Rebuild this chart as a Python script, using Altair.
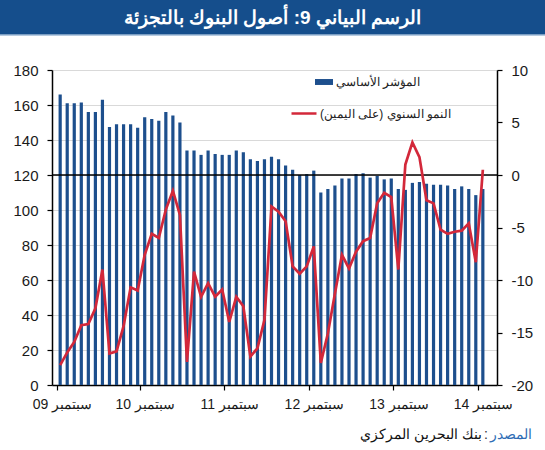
import altair as alt
import pandas as pd

# ---- data ----
index_values = [166, 161, 161, 161.5, 156, 156, 163, 147.5, 149, 149, 149, 147,
                153, 152, 151, 156, 154, 150, 134, 134, 131.5, 134, 132, 131.5,
                131.5, 134, 133, 129, 128, 129, 130.5, 129, 125.5, 123, 120, 120.5,
                122.5, 110, 112, 114, 118, 118, 120.5, 121, 118.5, 119.5, 117.5, 118,
                112, 111.5, 115.5, 116, 115, 114.5, 114.5, 114, 112, 113.5, 112, 108.5,
                112]
growth_values = [-18.1, -16.9, -15.9, -14.3, -14.2, -12.7, -9.0, -17.0, -16.8, -14.4,
                 -10.7, -11.0, -7.6, -5.6, -6.0, -3.3, -1.5, -3.8, -17.8, -9.2,
                 -11.6, -10.3, -11.6, -10.9, -14.0, -11.6, -12.5, -17.3, -16.5, -13.8,
                 -3.0, -3.5, -4.4, -8.7, -9.4, -8.7, -6.8, -17.9, -15.1, -11.3,
                 -7.6, -8.9, -7.3, -6.3, -6.0, -2.7, -1.7, -2.1, -9.0, 1.0,
                 3.1, 1.7, -2.4, -2.7, -5.2, -5.6, -5.4, -5.3, -4.6, -8.3,
                 0.5]
month_index = list(range(len(index_values)))
year_labels = ['09', '10', '11', '12', '13', '14']
month_word = 'سبتمبر'
tick_positions = [-0.45, 11.3, 23.3, 35.3, 47.3, 59.3]
left_ticks = [0, 20, 40, 60, 80, 100, 120, 140, 160, 180]
right_ticks = [-20, -15, -10, -5, 0, 5, 10]
reference_level = [120]

bar_label = 'المؤشر الأساسي'
line_label = 'النمو السنوي (على اليمين)'
title_text = 'الرسم البياني 9: أصول البنوك بالتجزئة'
source_label = 'المصدر'
source_text = 'بنك البحرين المركزي'

BLUE = '#1d4f8d'
BAND = '#154e8c'
RED = '#d3283a'
FONT = 'Liberation Sans'

df = pd.DataFrame({
    'm': month_index,
    'index': index_values,
    'growth': growth_values,
    'bar_series': bar_label,
    'line_series': line_label,
})

xscale = alt.Scale(domain=[-0.45, 61.3], nice=False, zero=False)
label_expr = ("'" + month_word + " ' + " + str(year_labels) +
              "[round((datum.value + 0.7) / 12)]")
xaxis = alt.Axis(values=tick_positions, labelExpr=label_expr, grid=False,
                 title=None, tickSize=5, labelPadding=7, labelOffset=5,
                 labelFlush=False, labelOverlap=False, labelFontSize=14)

left_scale = alt.Scale(domain=[0, 180], nice=False)
left_axis = alt.Axis(values=left_ticks, title=None, grid=True, gridColor='#d9d9d9',
                     tickSize=5, labelPadding=9, labelFontSize=15,
                     labelOverlap=False, labelFlush=False, tickCount=10)
right_axis = alt.Axis(values=right_ticks, title=None, grid=False, orient='right',
                      tickSize=5, labelPadding=9, labelFontSize=15,
                      labelOverlap=False, labelFlush=False,
                      labelExpr="'' + datum.value")

bars = alt.Chart(df).mark_bar(size=3.2).encode(
    x=alt.X('m:Q', scale=xscale, axis=xaxis),
    y=alt.Y('index:Q', scale=left_scale, axis=left_axis),
    color=alt.Color('bar_series:N',
                    scale=alt.Scale(domain=[bar_label], range=[BLUE]),
                    legend=alt.Legend(title=None, orient='none', legendX=263, legendY=3,
                                      symbolType='M-1,-0.33H1V0.33H-1Z', symbolSize=324,
                                      symbolStrokeWidth=0, labelFontSize=12, labelOffset=3,
                                      padding=0, labelColor='#222222')),
)

rule = alt.Chart(pd.DataFrame({'ref': reference_level})).mark_rule(
    color='black', strokeWidth=1.5).encode(
    y=alt.Y('ref:Q', scale=left_scale, axis=left_axis))

left = alt.layer(bars, rule)

line = alt.Chart(df).mark_line(strokeWidth=2.7).encode(
    x=alt.X('m:Q', scale=xscale),
    y=alt.Y('growth:Q', scale=alt.Scale(domain=[-20, 10], nice=False), axis=right_axis),
    color=alt.Color('line_series:N',
                    scale=alt.Scale(domain=[line_label], range=[RED]),
                    legend=alt.Legend(title=None, orient='none', legendX=238, legendY=29.5,
                                      symbolType='stroke', symbolSize=625,
                                      symbolStrokeWidth=2.5, labelFontSize=12,
                                      labelOffset=2, padding=0, labelColor='#222222')),
)

deco_df = pd.DataFrame({'t': [title_text]})
band = alt.Chart(deco_df).mark_rect(color=BAND).encode(
    x=alt.value(-52), x2=alt.value(493), y=alt.value(-70), y2=alt.value(-35.5))
band_line = alt.Chart(deco_df).mark_rule(color='#6f95c2', strokeWidth=1.2).encode(
    x=alt.value(-52), x2=alt.value(493), y=alt.value(-35))
title = alt.Chart(deco_df).mark_text(
    color='white', fontSize=19, fontWeight='bold', font=FONT,
    align='center', baseline='middle').encode(
    text='t:N', x=alt.value(220.5), y=alt.value(-52.5))

src_df = pd.DataFrame({'a': [source_label], 'b': [source_text], 'c': [':']})
src_a = alt.Chart(src_df).mark_text(color='#2f6db5', fontSize=14, font=FONT,
                                    align='right', baseline='middle').encode(
    text='a:N', x=alt.value(480), y=alt.value(365))
src_c = alt.Chart(src_df).mark_text(color='#333333', fontSize=14, font=FONT,
                                    align='right', baseline='middle').encode(
    text='c:N', x=alt.value(436), y=alt.value(365))
src_b = alt.Chart(src_df).mark_text(color='#111111', fontSize=14, font=FONT,
                                    align='right', baseline='middle').encode(
    text='b:N', x=alt.value(430), y=alt.value(365))

chart = alt.layer(left, line, band, band_line, title, src_a, src_c, src_b).resolve_scale(
    y='independent', color='independent'
).properties(
    width=445, height=315,
    autosize=alt.AutoSizeParams(type='none'),
    padding={'left': 52, 'top': 70, 'right': 48, 'bottom': 65},
    background='white',
).configure_view(stroke=None).configure_axis(
    labelFont=FONT, labelColor='#1a1a1a', domainColor='black', tickColor='black',
    domainWidth=1.5, tickWidth=1.2
).configure_legend(labelFont=FONT)

chart.save('out.html', embed_options={'renderer': 'svg', 'actions': False})
